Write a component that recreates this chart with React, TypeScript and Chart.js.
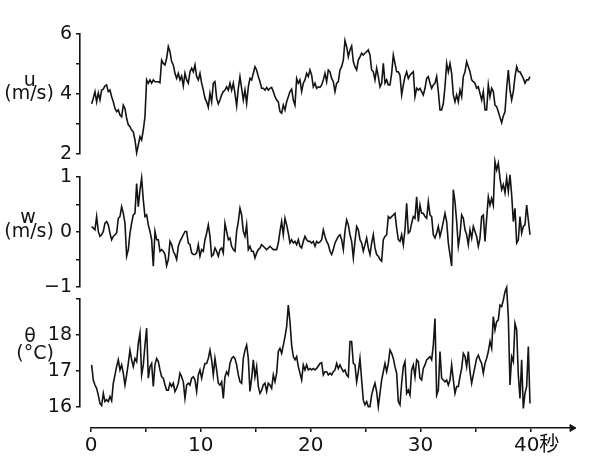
import { useEffect, useRef } from "react";
import { Chart, registerables } from "chart.js";

Chart.register(...registerables);

const sampleStart = 0.06;
const sampleStep = 0.15186;

const uValues = [
  3.67, 3.86, 4.08, 3.74, 4.04, 3.80, 4.13, 4.16, 4.27, 4.30,
  4.08, 4.13, 3.91, 3.74, 3.52, 3.41, 3.47, 3.30, 3.24, 3.63,
  3.52, 3.19, 2.97, 2.91, 2.80, 2.74, 2.47, 2.04, 2.30, 2.58,
  2.47, 2.80, 3.24, 4.47, 4.36, 4.47, 4.36, 4.47, 4.41, 4.41,
  4.41, 4.38, 5.13, 5.02, 4.97, 5.19, 5.58, 5.41, 5.08, 4.97,
  4.69, 4.52, 4.69, 4.47, 4.60, 4.27, 4.69, 4.47, 4.36, 4.74,
  4.86, 4.74, 4.97, 4.58, 4.47, 4.69, 4.36, 4.13, 3.86, 3.74,
  3.56, 4.02, 3.74, 4.36, 4.41, 3.86, 3.67, 3.80, 3.97, 4.08,
  4.13, 4.24, 4.13, 4.36, 4.13, 4.36, 4.02, 3.60, 4.19, 4.58,
  4.19, 3.80, 4.13, 3.69, 4.24, 4.52, 4.47, 4.69, 4.91, 4.80,
  4.58, 4.41, 4.19, 4.19, 4.13, 4.22, 4.13, 4.19, 4.22, 4.08,
  3.91, 3.80, 3.74, 3.41, 3.36, 3.63, 3.47, 3.74, 3.91, 4.08,
  4.16, 3.80, 3.63, 4.52, 4.36, 4.47, 4.08, 4.36, 4.47, 4.69,
  4.58, 4.80, 4.63, 4.24, 4.36,
  4.19, 4.24, 4.22, 4.30, 4.47, 4.69, 4.41, 4.80, 4.74, 4.52,
  4.41, 4.08, 4.36, 4.41, 4.80, 4.91, 5.13, 5.78, 5.58, 5.24,
  5.47, 5.60, 5.08, 4.91, 4.80, 5.13, 5.24, 5.36, 5.30, 5.36,
  5.41, 5.47, 5.30, 4.80, 4.74, 4.47, 4.86, 4.58, 4.24, 4.36,
  5.02, 4.36, 4.47, 4.30, 4.30, 4.69, 5.30, 5.02, 4.74, 4.74,
  4.63, 3.97, 4.30, 4.58, 4.74, 4.52, 4.63, 4.69, 4.74, 3.91,
  4.19, 4.13, 4.19, 4.08, 3.97, 4.19, 4.52, 4.58, 4.36, 4.19,
  4.30, 4.36, 4.58, 4.08, 3.47, 3.47, 3.69, 4.24, 5.02, 4.74,
  5.02, 4.69, 3.97, 3.74, 3.97, 3.74, 4.13, 3.91, 4.58, 4.74,
  5.08, 4.91, 4.74, 4.47, 4.41, 4.36, 4.19, 4.24, 4.02, 3.80,
  4.08, 3.47, 3.47, 4.30, 3.91, 4.19, 4.08, 3.63, 3.58, 3.41,
  3.22, 3.04, 3.27, 3.41, 4.19, 4.80, 4.13, 3.80, 4.08, 4.58,
  4.91, 4.74, 4.74, 4.63, 4.52, 4.36, 4.47, 4.47, 4.58,
];

const wValues = [
  0.10, 0.07, 0.04, 0.28, 0.01, -0.08, -0.05, 0.01, 0.16, 0.19,
  0.13, -0.02, -0.14, -0.08, -0.05, -0.02, 0.25, 0.28, 0.46, 0.34,
  0.16, -0.44, -0.32, -0.02, 0.16, 0.31, 0.34, 0.88, 0.46, 0.76,
  0.98, 0.58, 0.28, 0.31, 0.13, 0.01, -0.14, -0.62, 0.01, -0.14,
  -0.14, -0.35, -0.32, -0.35, -0.41, -0.61, -0.50, -0.17, -0.23, -0.35,
  -0.41, -0.50, -0.26, -0.17, -0.11, -0.05, 0.01, 0.01, -0.20, -0.23,
  -0.38, -0.41, -0.41, -0.38, -0.23, -0.44, -0.32, -0.35, -0.14, -0.02,
  0.13, -0.08, -0.44, -0.41, -0.29, -0.35, -0.44, -0.32, -0.29, -0.38,
  0.16, 0.01, -0.14, -0.11, -0.26, -0.32, -0.35, 0.01, 0.19, 0.43,
  0.31, 0.01, -0.08, 0.13, -0.32, -0.26, -0.35, -0.35, -0.47, -0.38,
  -0.32, -0.29, -0.23, -0.26, -0.29, -0.32, -0.29, -0.26, -0.29, -0.32,
  -0.32, -0.32, -0.20, 0.01, 0.19, -0.05, 0.25, 0.13, -0.02, -0.20,
  -0.14, -0.20, -0.17, -0.23, -0.14, -0.26, -0.29, -0.17, -0.08, -0.14,
  -0.17, -0.17, -0.20, -0.17, -0.26,
  -0.17, -0.20, -0.18, -0.14, 0.04, -0.08, -0.17, -0.23, -0.35, -0.41,
  -0.32, -0.20, -0.14, -0.08, -0.05, -0.14, -0.32, 0.01, 0.22, 0.13,
  -0.05, -0.17, -0.47, -0.17, 0.10, 0.04, -0.14, -0.20, -0.35, -0.23,
  -0.11, -0.29, -0.41, -0.20, -0.05, -0.29, -0.41, -0.44, -0.50, -0.53,
  -0.14, -0.08, -0.05, 0.28, 0.25, 0.28, 0.31, 0.34, 0.07, -0.14,
  -0.17, -0.05, -0.23, 0.04, 0.52, -0.02, 0.01, 0.16, 0.28, 0.25,
  0.64, 0.19, 0.49, 0.34, 0.34, 0.28, 0.25, 0.55, 0.31, 0.28,
  -0.05, -0.11, -0.02, 0.10, -0.08, 0.04, 0.19, 0.34, 0.19, -0.20,
  -0.41, -0.62, 0.77, 0.55, 0.19, -0.26, -0.05, 0.31, 0.25, 0.04,
  -0.05, -0.23, 0.04, -0.11, 0.10, 0.01, -0.08, -0.26, -0.11, 0.28,
  0.31, -0.17, 0.25, 0.64, 0.49, 0.61, 0.49, 1.28, 1.13, 1.25,
  0.98, 0.77, 0.86, 0.71, 0.98, 0.74, 1.04, 0.68, 0.19, 0.43,
  -0.20, -0.14, 0.28, -0.02, 0.10, 0.13, 0.49, 0.22, -0.05,
];

const thetaValues = [
  17.17, 16.75, 16.61, 16.52, 16.33, 16.10, 16.04, 16.38, 16.15, 16.20,
  16.15, 16.29, 16.17, 16.66, 16.89, 17.12, 17.31, 17.03, 17.17, 16.94,
  16.61, 16.89, 17.21, 17.58, 17.31, 17.12, 17.35, 17.26, 17.77, 18.05,
  16.89, 17.17, 17.72, 18.19, 16.80, 17.12, 17.21, 16.57, 17.17, 17.35,
  17.26, 17.03, 16.84, 16.80, 16.61, 16.47, 16.47, 16.66, 16.57, 16.66,
  16.43, 16.52, 16.66, 16.94, 16.84, 16.70, 16.24, 16.61, 16.66, 16.61,
  16.80, 16.84, 16.75, 16.43, 16.89, 17.03, 16.80, 17.03, 17.21, 17.21,
  17.35, 17.58, 17.31, 16.89, 17.35, 17.03, 16.66, 16.61, 16.70, 16.24,
  16.84, 16.98, 16.89, 17.21, 17.35, 17.40, 17.35, 17.17, 16.89, 16.70,
  16.66, 17.35, 17.58, 17.72, 17.35, 16.43, 16.80, 17.31, 16.84, 17.12,
  16.57, 16.38, 16.47, 16.61, 16.66, 16.43, 16.66, 16.61, 16.52, 16.89,
  16.70, 16.94, 17.54, 17.63, 17.49, 17.72, 17.95, 18.23, 18.83, 18.37,
  17.72, 17.40, 17.31, 17.40, 17.12, 16.94, 16.75, 17.17, 17.03, 17.17,
  17.03, 17.07, 17.03, 17.07, 17.03,
  17.07, 17.14, 17.21, 17.23, 16.89, 16.98, 16.98, 16.89, 16.94, 16.89,
  16.98, 17.03, 17.21, 17.07, 17.17, 17.07, 16.98, 17.03, 16.89, 16.84,
  17.82, 17.82, 17.21, 17.17, 16.70, 16.98, 17.35, 16.75, 16.19, 16.06,
  16.15, 16.01, 16.01, 16.33, 16.52, 16.66, 16.43, 16.01, 16.38, 16.75,
  16.98, 17.21, 16.98, 17.21, 17.58, 17.49, 17.35, 17.12, 16.94, 16.15,
  16.06, 16.66, 17.12, 17.26, 16.38, 16.47, 16.33, 17.03, 17.17, 16.84,
  17.31, 17.26, 16.80, 16.75, 17.07, 17.17, 17.31, 17.35, 17.40, 17.31,
  17.72, 18.46, 16.33, 16.47, 17.54, 16.80, 16.75, 16.70, 16.75, 16.61,
  16.75, 17.17, 16.75, 16.38, 16.57, 16.57, 16.84, 17.07, 17.49, 17.40,
  17.12, 17.54, 16.98, 16.66, 16.89, 17.12, 17.35, 17.44, 17.31, 17.21,
  16.94, 17.21, 17.35, 17.54, 17.82, 17.63, 18.51, 18.14, 18.37, 18.42,
  18.83, 18.79, 18.97, 19.20, 19.32, 18.51, 16.61, 17.40, 17.26, 18.32,
  18.14, 16.89, 16.24, 17.31, 15.96, 16.38, 16.57, 17.68, 16.10,
];

// tick labels (axis titles are carried on the middle tick of each panel)
const uTickLabels: Record<string, string | string[]> = {
  "6": "6",
  "4": ["u      ", "(m/s) 4", ""],
  "2": "2",
};
const wTickLabels: Record<string, string | string[]> = {
  "1": "1",
  "0": ["w      ", "(m/s) 0", ""],
  "-1": "\u22121",
};
const thetaTickLabels: Record<string, string | string[]> = {
  "18": "18",
  "17": ["\u03b8      ", "(\u00b0C)   ", "17", "", ""],
  "16": "16",
};
const timeTickLabels: Record<string, string> = {
  "0": "0",
  "10": "10",
  "20": "20",
  "30": "30",
  "40": "  40\u79d2",
};

const INK = "#141414";
const FONT = "'DejaVu Sans', 'Noto Sans CJK JP', sans-serif";

type Panel = {
  values: number[];
  min: number;
  max: number;
  step: number;
  labels: Record<string, string | string[]>;
  lineHeight: number;
  top: number;
  bottom: number;
};

function panelConfig(p: Panel): any {
  return {
    type: "line",
    data: {
      datasets: [
        {
          data: p.values.map((v, i) => ({ x: sampleStart + i * sampleStep, y: v })),
          borderColor: INK,
          borderWidth: 1.6,
          pointRadius: 0,
          tension: 0,
          fill: false,
          clip: false,
        },
      ],
    },
    options: {
      responsive: false,
      animation: false,
      events: [],
      layout: { padding: { left: 0, right: 70, top: p.top, bottom: 474 - p.bottom } },
      plugins: { legend: { display: false }, tooltip: { enabled: false } },
      scales: {
        x: { type: "linear", min: -1, max: 40, display: false },
        y: {
          min: p.min,
          max: p.max,
          afterFit: (s: any) => {
            s.width = 80;
          },
          border: { display: true, color: INK, width: 1.6 },
          grid: {
            display: true,
            drawOnChartArea: false,
            drawTicks: true,
            tickLength: 4,
            color: INK,
            lineWidth: 1.5,
          },
          ticks: {
            stepSize: p.step,
            autoSkip: false,
            padding: 4,
            color: INK,
            font: { family: FONT, size: 19, lineHeight: p.lineHeight },
            callback: (v: number) => p.labels[String(v)] ?? "",
          },
        },
      },
    },
  };
}

function timeAxisConfig(): any {
  return {
    type: "scatter",
    data: {
      datasets: [
        {
          data: [{ x: 43.8, y: 0 }],
          pointStyle: "triangle",
          rotation: 90,
          pointRadius: 4,
          backgroundColor: INK,
          borderColor: INK,
          borderWidth: 1,
          clip: false,
        },
      ],
    },
    options: {
      responsive: false,
      animation: false,
      events: [],
      layout: { padding: { left: 91, right: 28, top: 400, bottom: 18 } },
      plugins: { legend: { display: false }, tooltip: { enabled: false } },
      scales: {
        x: {
          type: "linear",
          min: 0,
          max: 43.8,
          border: { display: true, color: INK, width: 1.6 },
          grid: {
            display: true,
            drawOnChartArea: false,
            drawTicks: true,
            tickLength: 4,
            color: INK,
            lineWidth: 1.5,
          },
          ticks: {
            stepSize: 5,
            includeBounds: false,
            autoSkip: false,
            maxRotation: 0,
            padding: 2,
            color: INK,
            font: { family: FONT, size: 20 },
            callback: (v: number) => timeTickLabels[String(v)] ?? "",
          },
        },
        y: { display: false, min: 0, max: 1 },
      },
    },
  };
}

const panels: Panel[] = [
  { values: uValues, min: 2, max: 6, step: 1, labels: uTickLabels, lineHeight: 0.7, top: 34, bottom: 154 },
  { values: wValues, min: -1, max: 1, step: 0.5, labels: wTickLabels, lineHeight: 0.72, top: 177, bottom: 287 },
  { values: thetaValues, min: 16, max: 19, step: 1, labels: thetaTickLabels, lineHeight: 0.9, top: 299, bottom: 407 },
];

export default function App() {
  const refs = [
    useRef<HTMLCanvasElement>(null),
    useRef<HTMLCanvasElement>(null),
    useRef<HTMLCanvasElement>(null),
    useRef<HTMLCanvasElement>(null),
  ];

  useEffect(() => {
    const charts: Chart[] = [];
    panels.forEach((p, i) => {
      const c = refs[i].current;
      if (c) charts.push(new Chart(c, panelConfig(p)));
    });
    const xc = refs[3].current;
    if (xc) charts.push(new Chart(xc, timeAxisConfig()));
    return () => charts.forEach((c) => c.destroy());
  }, []);

  const style: React.CSSProperties = { position: "absolute", left: 0, top: 0 };
  return (
    <div style={{ position: "absolute", left: 0, top: 0, width: 600, height: 474, background: "#fff" }}>
      {refs.map((r, i) => (
        <canvas key={i} ref={r} width={600} height={474} style={style} />
      ))}
    </div>
  );
}
